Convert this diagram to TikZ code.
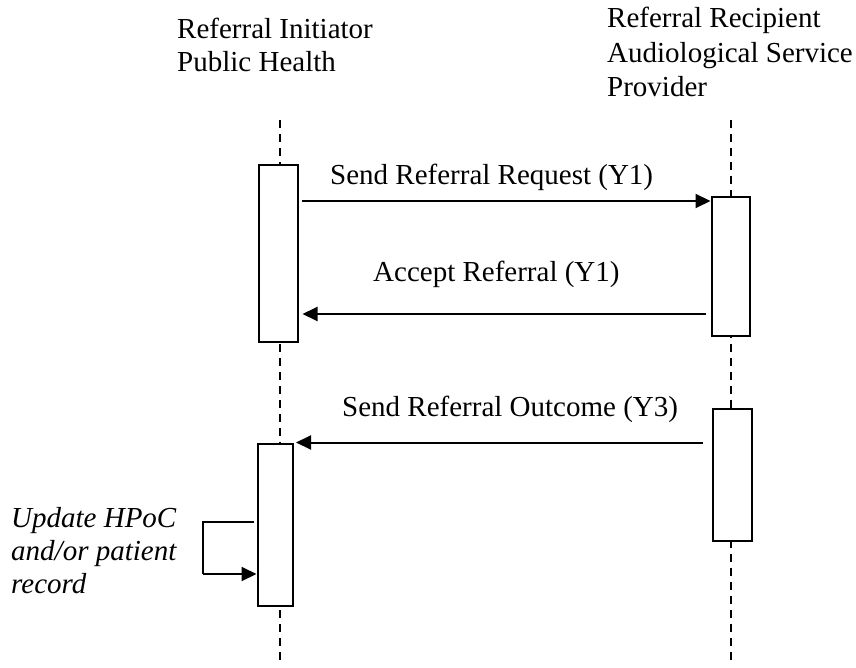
\documentclass[tikz,border=0pt]{standalone}
\usepackage{fontspec}
\setmainfont{Liberation Serif}
\usetikzlibrary{arrows.meta}
\begin{document}
\begin{tikzpicture}[x=1pt,y=-1pt,
  lifeline/.style={line width=2pt,dash pattern=on 8pt off 6pt},
  actbox/.style={draw,line width=2pt,fill=white,rectangle,inner sep=0pt,outer sep=0pt},
  msg/.style={line width=2pt,-{Triangle[length=15pt,width=14pt]}},
  lbl/.style={font=\fontsize{29}{34}\selectfont,inner sep=0pt},
  party/.style={inner sep=0pt,align=left,anchor=base west},
]
\useasboundingbox (0,0) rectangle (856,668);

% participants (base anchor sits on the last line)
\node[party,font=\fontsize{29}{33}\selectfont] (pA) at (177,72) {Referral Initiator\\Public Health};
\node[party,font=\fontsize{29}{34.5}\selectfont] (pB) at (607,97) {Referral Recipient\\Audiological Service\\Provider};

% lifelines
\coordinate (la0) at (280,120);
\coordinate (la1) at (280,664);
\coordinate (lb0) at (731,120);
\coordinate (lb1) at (731,664);
\draw[lifeline] (la0) -- (la1);
\draw[lifeline] (lb0) -- (lb1);

% activation bars
\node[actbox,minimum width=39pt,minimum height=176pt] (a1) at (278.5,253.5) {};
\node[actbox,minimum width=35pt,minimum height=162pt] (a2) at (275.5,525) {};
\node[actbox,minimum width=38pt,minimum height=139pt] (b1) at (731,266.5) {};
\node[actbox,minimum width=39pt,minimum height=132pt] (b2) at (732.5,475) {};

% message levels
\coordinate (m1) at (0,201);
\coordinate (m2) at (0,314);
\coordinate (m3) at (0,442.5);

\draw[msg,shorten <=3.5pt,shorten >=1.5pt] (a1.east |- m1) -- (b1.west |- m1);
\draw[msg,shorten <=6pt,shorten >=4.5pt] (b1.west |- m2) -- (a1.east |- m2);
\draw[msg,shorten <=10pt,shorten >=3pt] (b2.west |- m3) -- (a2.east |- m3);

\node[lbl,anchor=base west] (t1) at (330,185) {Send Referral Request (Y1)};
\node[lbl,anchor=base west] (t2) at (373,281) {Accept Referral (Y1)};
\node[lbl,anchor=base west] (t3) at (342,416) {Send Referral Outcome (Y3)};

% self call on the initiator
\coordinate (s1) at (203,522);
\coordinate (s2) at (203,574);
\draw[line width=2pt] (a2.west |- s1) ++(-4pt,0) -- (s1) -- (s2);
\draw[msg,shorten >=1.5pt] (s2) -- (a2.west |- s2);
\node[party,font=\fontsize{29}{33}\selectfont\itshape] (note) at (11,593) {Update HPoC\\and/or patient\\record};
\end{tikzpicture}
\end{document}
